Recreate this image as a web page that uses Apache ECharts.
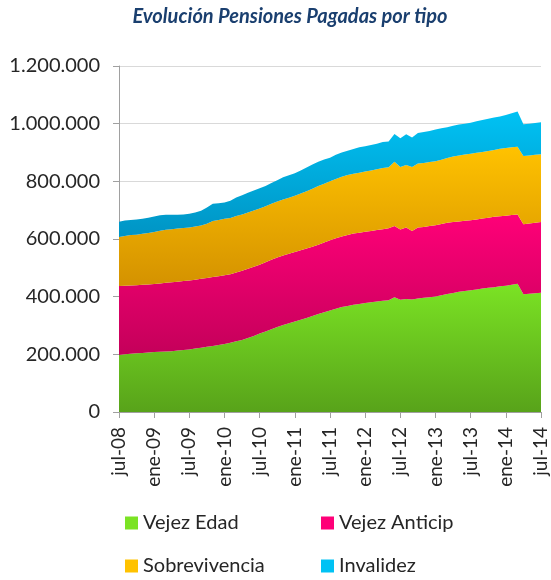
<!DOCTYPE html>
<html>
<head>
<meta charset="utf-8">
<script src="https://cdn.jsdelivr.net/npm/echarts@6/dist/echarts.min.js"></script>
<style>
html,body{margin:0;padding:0;background:#fff;}
#chart{width:551px;height:580px;}
</style>
</head>
<body>
<div id="chart"></div>
<script>
const categories = [
  'jul-08','ago-08','sep-08','oct-08','nov-08','dic-08',
  'ene-09','feb-09','mar-09','abr-09','may-09','jun-09','jul-09','ago-09','sep-09','oct-09','nov-09','dic-09',
  'ene-10','feb-10','mar-10','abr-10','may-10','jun-10','jul-10','ago-10','sep-10','oct-10','nov-10','dic-10',
  'ene-11','feb-11','mar-11','abr-11','may-11','jun-11','jul-11','ago-11','sep-11','oct-11','nov-11','dic-11',
  'ene-12','feb-12','mar-12','abr-12','may-12','jun-12','jul-12','ago-12','sep-12','oct-12','nov-12','dic-12',
  'ene-13','feb-13','mar-13','abr-13','may-13','jun-13','jul-13','ago-13','sep-13','oct-13','nov-13','dic-13',
  'ene-14','feb-14','mar-14','abr-14','may-14','jun-14','jul-14'
];

const seriesNames = ['Vejez Edad', 'Vejez Anticip', 'Sobrevivencia', 'Invalidez'];

// values in thousands of pensions
const vejezEdad = [198,200,202,204,205,206,208,209,210,211,213,215,217,220,223,226,229,232,236,240,245,250,257,264,272,279,287,295,302,308,314,320,326,333,340,346,352,358,364,368,372,375,378,381,383,386,388,398,389,392,390,394,396,398,401,405,409,413,417,420,422,425,428,431,433,436,438,441,445,408,410,412,414];
const vejezAnticip = [239,238,237,236,236,236,236,237,238,239,239,239,239,239,239,239,239,239,238,238,239,240,240,240,239,240,241,241,241,241,241,241,241,240,240,242,244,245,245,246,247,247,247,247,248,248,249,247,244,248,238,246,246,247,247,247,247,246,244,243,243,243,243,243,244,243,243,242,240,243,244,244,245];
const sobrevivencia = [170,172,175,175,177,179,180,183,184,184,184,184,184,184,185,188,194,195,196,195,196,195,195,195,195,195,194,194,194,194,195,197,199,201,204,204,204,205,207,208,207,208,209,210,211,212,212,223,217,217,222,222,222,222,222,223,225,227,229,230,231,231,231,231,232,234,235,235,235,237,236,236,235];
const invalidez = [53,54,52,53,52,53,54,53,52,50,48,47,48,49,51,56,60,58,57,60,64,67,68,69,70,70,72,74,77,78,78,80,82,84,84,84,82,84,84,84,86,88,88,88,88,90,89,96,99,106,102,106,107,108,110,109,107,107,107,107,107,109,111,112,112,112,114,118,122,110,110,110,111];

const yTicks = [0, 200000, 400000, 600000, 800000, 1000000, 1200000];

const seriesValues = [vejezEdad, vejezAnticip, sobrevivencia, invalidez];
const gradients = [
  ['#7BE324', '#58A31A'],
  ['#FF0078', '#C4005A'],
  ['#FFC200', '#D49200'],
  ['#00C2F4', '#0094C4']
];

function fmt(v) {
  return String(v).replace(/\B(?=(\d{3})+(?!\d))/g, '.');
}

const chart = echarts.init(document.getElementById('chart'), null, {renderer: 'canvas'});
const FONT = 'Lato, "Noto Sans", sans-serif';

const legendText = {fontFamily: FONT, fontSize: 20, color: '#262626', width: 160, lineHeight: 20, padding: [0, 0, 0, 0]};

const option = {
  animation: false,
  backgroundColor: '#ffffff',
  title: {
    text: 'Evolución Pensiones Pagadas por tipo',
    left: 290,
    textAlign: 'center',
    top: 7,
    padding: 0,
    textStyle: {
      fontFamily: FONT,
      fontSize: 20,
      fontWeight: 'bold',
      fontStyle: 'italic',
      color: '#1A3F6F'
    }
  },
  legend: [
    {
      data: [seriesNames[0], seriesNames[1]],
      left: 125, top: 513, padding: 0,
      icon: 'rect', itemWidth: 13, itemHeight: 13, itemGap: 18,
      textStyle: legendText
    },
    {
      data: [seriesNames[2], seriesNames[3]],
      left: 125, top: 556, padding: 0,
      icon: 'rect', itemWidth: 13, itemHeight: 13, itemGap: 18,
      textStyle: legendText
    }
  ],
  grid: {left: 119, right: 10, top: 66, bottom: 168, containLabel: false},
  xAxis: {
    type: 'category',
    data: categories,
    boundaryGap: false,
    axisLine: {show: true, lineStyle: {color: '#A0A0A0', width: 1}},
    axisTick: {show: true, interval: 5, length: 6, lineStyle: {color: '#A0A0A0'}},
    axisLabel: {
      interval: 5, rotate: 90, margin: 15,
      fontFamily: FONT, fontSize: 19, color: '#262626'
    },
    splitLine: {show: false}
  },
  yAxis: {
    type: 'value',
    min: yTicks[0], max: yTicks[yTicks.length - 1], interval: yTicks[1] - yTicks[0],
    axisLine: {show: true, lineStyle: {color: '#A0A0A0', width: 1}},
    axisTick: {show: true, length: 6, lineStyle: {color: '#A0A0A0'}},
    axisLabel: {
      margin: 19, fontFamily: FONT, fontSize: 20, color: '#262626',
      formatter: fmt
    },
    splitLine: {show: true, lineStyle: {color: '#D9D9D9', width: 1}}
  },
  series: seriesNames.map((name, k) => ({
    name: name,
    type: 'line',
    stack: 'total',
    symbol: 'none',
    smooth: false,
    lineStyle: {width: 0},
    itemStyle: {color: gradients[k][0]},
    areaStyle: {
      opacity: 1,
      color: new echarts.graphic.LinearGradient(0, 0, 0, 1, [
        {offset: 0, color: gradients[k][0]},
        {offset: 1, color: gradients[k][1]}
      ])
    },
    data: seriesValues[k].map(v => v * 1000)
  }))
};
chart.setOption(option);
</script>
</body>
</html>
